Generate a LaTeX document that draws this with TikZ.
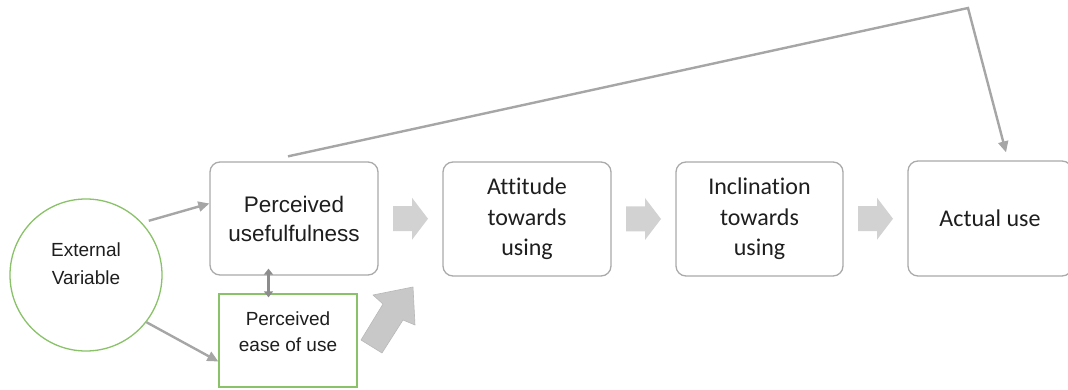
\documentclass[tikz,border=0pt]{standalone}
\usepackage{fontspec}
\setmainfont{Liberation Sans}
\newfontfamily\calfont[Ligatures=NoCommon]{Carlito}
\usetikzlibrary{arrows.meta,calc}

\definecolor{linegray}{RGB}{166,166,166}
\definecolor{boxgray}{RGB}{170,170,170}
\definecolor{leafgreen}{RGB}{137,194,104}
\definecolor{blockfill}{RGB}{210,210,210}
\definecolor{bigfill}{RGB}{200,200,200}
\definecolor{bigedge}{RGB}{185,185,185}
\definecolor{twowaygray}{RGB}{140,140,140}
\definecolor{inkdark}{RGB}{30,30,30}

\tikzset{
  roundbox/.style={draw=boxgray, line width=1.3pt, rounded corners=10pt,
    fill=white, text=inkdark, align=center, inner sep=0pt},
  greenbox/.style={draw=leafgreen, line width=1.3pt, fill=white,
    minimum width=138pt, minimum height=93pt, inner sep=0pt},
  greencircle/.style={draw=leafgreen, line width=1.3pt, circle,
    minimum size=152pt, inner sep=0pt},
  label/.style={text=inkdark, align=center, inner sep=0pt},
  conn/.style={draw=linegray, line width=2.4pt,
    -{Triangle[length=11pt,width=10pt]}},
  twoway/.style={draw=twowaygray, line width=3.5pt,
    {Triangle[length=6pt,width=9pt]}-{Triangle[length=6pt,width=9pt]}},
  blockarrow/.pic={
    \fill[blockfill] (-17.5,-12.5) -- (1.5,-12.5) -- (1.5,-21) -- (17.5,0)
      -- (1.5,21) -- (1.5,12.5) -- (-17.5,12.5) -- cycle;
  }
}

\begin{document}
\begin{tikzpicture}[x=1pt,y=-1pt]
  \useasboundingbox (0,0) rectangle (1068,390);
  \clip (0,0) rectangle (1068,390);

  % main chain of boxes
  \node[roundbox, minimum width=168pt, minimum height=113pt,
        font=\fontsize{22.5}{29}\selectfont] (pu) at (294,218.5)
        {Perceived\\usefulfulness};
  \node[roundbox, minimum width=168pt, minimum height=114pt,
        font=\calfont\fontsize{24}{30.5}\selectfont] (att) at (527,219)
        {Attitude\\towards\\using};
  \node[roundbox, minimum width=167pt, minimum height=114pt,
        font=\calfont\fontsize{24}{30.5}\selectfont] (inc) at (759.5,219)
        {Inclination\\towards\\using};
  \node[roundbox, minimum width=164pt, minimum height=115pt,
        font=\calfont\fontsize{24}{30.5}\selectfont] (act) at (990,218.5)
        {Actual use};

  % ease of use box and external variable circle
  \node[greenbox] (peou) at (288,340.5) {};
  \node[label, font=\fontsize{19}{26}\selectfont] (peoutext)
        at ([yshift=9pt]peou.center) {Perceived\\ease of use};
  \node[greencircle] (ext) at (86,275) {};
  \node[label, font=\fontsize{19}{28}\selectfont] (exttext)
        at ([yshift=11pt]ext.center) {External\\Variable};

  % block arrows between the stages
  \pic at ($(pu.east)!0.5!(att.west)$) {blockarrow};
  \pic at ($(att.east)!0.5!(inc.west)$) {blockarrow};
  \pic at ($(inc.east)!0.5!(act.west)$) {blockarrow};

  % large diagonal arrow from ease of use up to attitude
  \fill[bigfill, draw=bigedge, line width=0.6pt, line join=round]
    (361,340) -- (383,304) -- (373,295) -- (413,287) -- (415,325)
    -- (403,320) -- (382,353) -- cycle;

  % connectors
  \draw[conn, shorten <=7pt] (ext.43) -- ([yshift=15pt]pu.west);
  \draw[conn] (ext.-38) -- ([yshift=-21pt]peou.west);
  \coordinate (dx) at (268.5,0);
  \draw[twoway] ([yshift=7pt]pu.south -| dx) -- ([yshift=-4pt]peou.north -| dx);
  \coordinate (peak) at (968,8);
  \draw[conn] ([xshift=-6pt,yshift=5pt]pu.north) -- (peak)
        -- ([xshift=16pt,yshift=8pt]act.north);
\end{tikzpicture}
\end{document}
